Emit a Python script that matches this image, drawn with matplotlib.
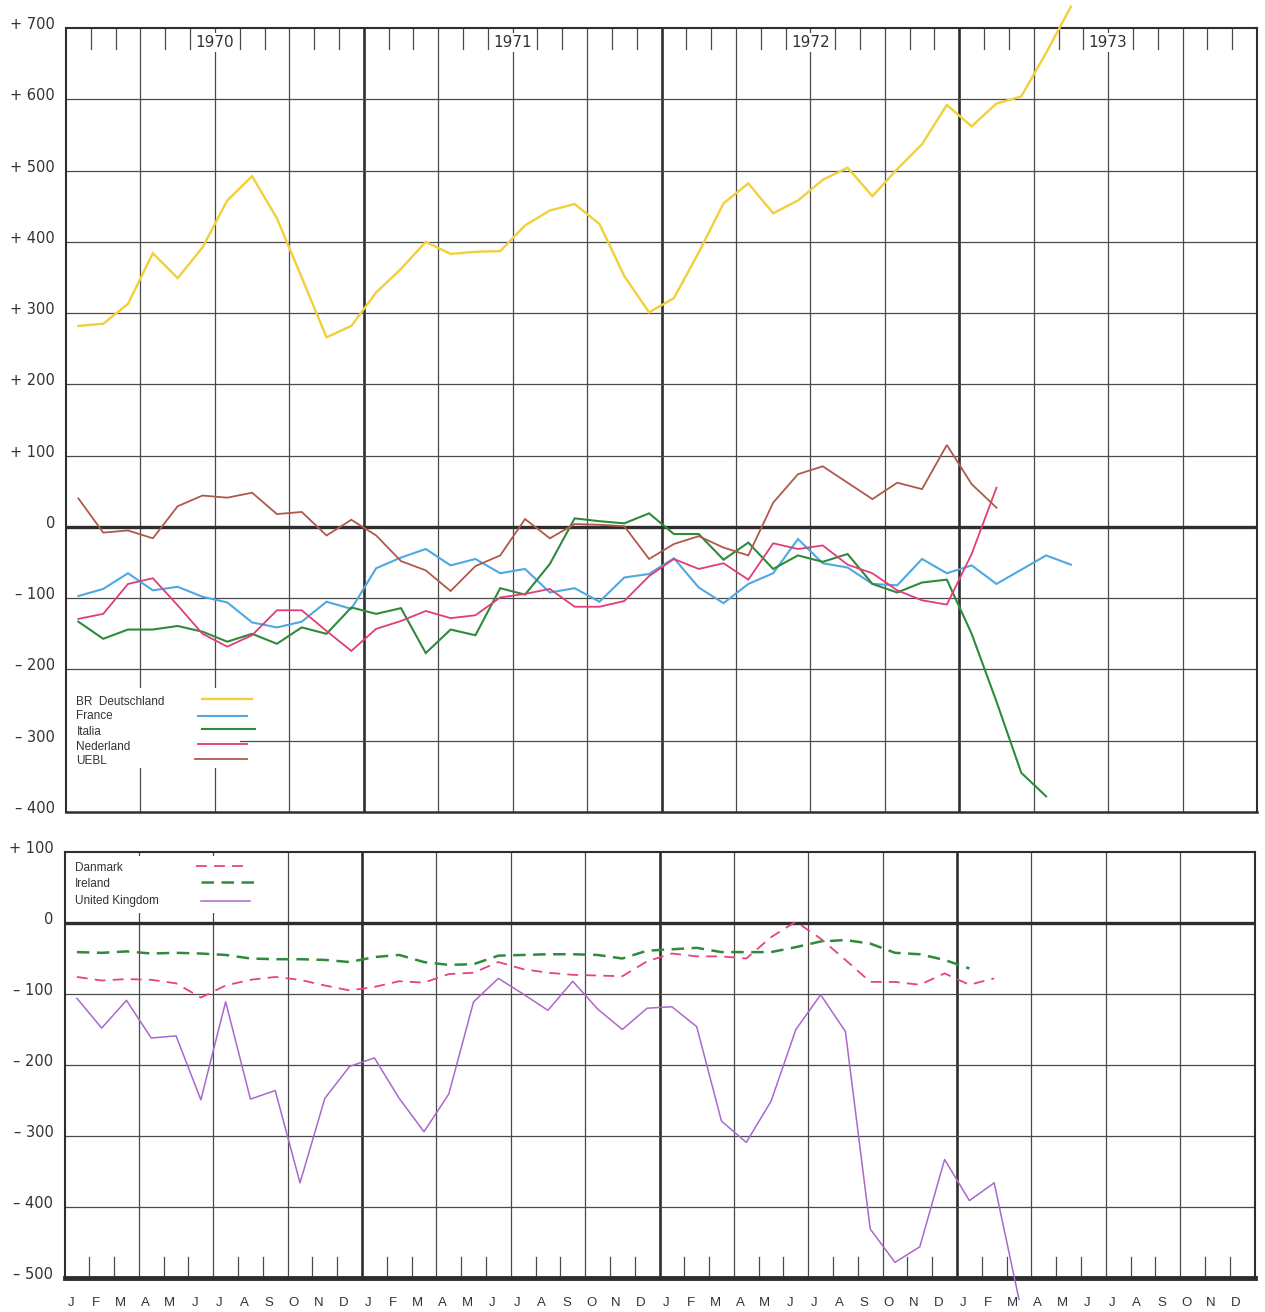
import numpy as np
import matplotlib.pyplot as plt
from matplotlib.transforms import ScaledTranslation, blended_transform_factory
from matplotlib.patches import Rectangle

# monthly values, Jan 1970 onwards
years = ['1970', '1971', '1972', '1973']
month_letters = ['J', 'F', 'M', 'A', 'M', 'J', 'J', 'A', 'S', 'O', 'N', 'D']

brd = [282, 285, 313, 384, 349, 392, 458, 492, 433, 350, 266, 282,
       329, 362, 400, 383, 386, 387, 423, 444, 453, 425, 352, 301,
       321, 385, 454, 482, 440, 458, 487, 504, 464, 502, 537, 592,
       562, 594, 604, 665, 730]
france = [-97, -87, -65, -89, -84, -98, -106, -134, -141, -133, -105, -115,
          -58, -43, -31, -54, -45, -65, -59, -92, -86, -105, -71, -66,
          -44, -85, -107, -80, -65, -17, -51, -57, -80, -82, -45, -65,
          -54, -80, -60, -40, -53]
italia = [-133, -157, -144, -144, -139, -147, -161, -150, -164, -141, -150, -113,
          -122, -114, -177, -144, -152, -86, -95, -52, 12, 8, 5, 19,
          -10, -10, -46, -22, -59, -40, -49, -38, -80, -92, -78, -74,
          -150, -245, -345, -378]
nederland = [-129, -122, -80, -72, -110, -150, -168, -152, -117, -117, -146, -174,
             -143, -132, -118, -128, -124, -99, -94, -87, -112, -112, -104, -69,
             -45, -59, -51, -74, -23, -31, -26, -53, -65, -89, -103, -109,
             -38, 55]
uebl = [40, -8, -5, -16, 29, 44, 41, 48, 18, 21, -12, 10,
        -12, -48, -61, -90, -55, -40, 11, -16, 4, 3, 1, -45,
        -24, -13, -29, -40, 34, 74, 85, 62, 39, 62, 53, 115,
        60, 27]

danmark = [-76, -81, -79, -80, -85, -105, -88, -80, -76, -80, -88, -95,
           -90, -82, -84, -72, -70, -55, -65, -70, -73, -74, -75, -54,
           -43, -47, -47, -50, -20, 2, -22, -52, -83, -83, -87, -71,
           -87, -78]
ireland = [-41, -42, -40, -43, -42, -43, -45, -50, -51, -51, -52, -55,
           -48, -45, -55, -59, -58, -46, -45, -44, -44, -45, -50, -39,
           -37, -35, -41, -41, -41, -34, -26, -24, -29, -42, -44, -52,
           -64]
uk = [-106, -148, -109, -162, -159, -249, -111, -248, -236, -366, -247, -202,
      -190, -247, -294, -241, -111, -78, -100, -123, -82, -121, -150, -120,
      -118, -146, -279, -309, -251, -150, -101, -153, -431, -478, -456, -333,
      -391, -366, -530]

top_series = [('BR  Deutschland', brd, '#f2cf3b', 1.7),
              ('France', france, '#4ea8e2', 1.5),
              ('Italia', italia, '#2f8a3c', 1.5),
              ('Nederland', nederland, '#e23c78', 1.3),
              ('UEBL', uebl, '#b0594a', 1.3)]
bottom_series = [('Danmark', danmark, '#e8437a', 1.3, (6, 4)),
                 ('Ireland', ireland, '#2f8a3c', 1.8, (5, 3)),
                 ('United Kingdom', uk, '#a968cf', 1.1, None)]

n_months = 48
grid_col = '#4a4a4a'
dark = '#2e2e2e'

fig = plt.figure(figsize=(12.65, 13.12), dpi=100)
W, H = 1265, 1312
ax1 = fig.add_axes([66 / W, 1 - 812 / H, 1191 / W, 784 / H])
ax2 = fig.add_axes([64.5 / W, 1 - 1278 / H, 1190 / W, 426 / H])


def setup_axis(ax, ymin, ymax, tick_side):
    ax.set_xlim(0, n_months)
    ax.set_ylim(ymin, ymax)
    for m in range(3, n_months, 3):
        if m % 12 == 0:
            ax.axvline(m, color=dark, lw=1.9, zorder=1)
        else:
            ax.axvline(m, color=grid_col, lw=0.9, zorder=1)
    for v in range(ymin + 100, ymax, 100):
        if v == 0:
            ax.axhline(0, color=dark, lw=2.4, zorder=1)
        else:
            ax.axhline(v, color=grid_col, lw=0.9, zorder=1)
    # small month ticks
    trans = blended_transform_factory(ax.transData, ax.transAxes)
    tick_len = 21 / (ax.get_position().height * H)
    for m in range(1, n_months):
        if m % 3 == 0:
            continue
        if tick_side == 'top':
            ax.plot([m, m], [1, 1 - tick_len], transform=trans, color=grid_col, lw=0.9, zorder=1)
        else:
            ax.plot([m, m], [0, tick_len], transform=trans, color=grid_col, lw=0.9, zorder=1)

    ticks = list(range(ymin, ymax + 1, 100))
    labels = []
    for v in ticks:
        if v > 0:
            labels.append(f'+ {v}')
        elif v < 0:
            labels.append(f'\u2013 {-v}')
        else:
            labels.append('0')
    ax.set_yticks(ticks)
    ax.set_yticklabels(labels, fontsize=10.5, color='#333333')
    ax.tick_params(axis='y', length=0, pad=8)
    ax.set_xticks([])
    offset = ScaledTranslation(0, 5 / 100, fig.dpi_scale_trans)
    for lab in ax.get_yticklabels():
        lab.set_transform(lab.get_transform() + offset)
    for sp in ax.spines.values():
        sp.set_color(dark)
        sp.set_linewidth(1.5)


setup_axis(ax1, -400, 700, 'top')
setup_axis(ax2, -500, 100, 'bottom')
ax1.spines['bottom'].set_linewidth(1.8)
ax2.spines['bottom'].set_linewidth(3.5)

# year labels
for k, yr in enumerate(years):
    ax1.text(12 * k + 6, 680, yr, ha='center', va='center', fontsize=11, color='#333333',
             bbox=dict(fc='white', ec='none', pad=1.5), zorder=2)

# month letters under the lower panel
trans2 = blended_transform_factory(ax2.transData, ax2.transAxes)
for m in range(n_months):
    ax2.text(m + 0.25, -0.059, month_letters[m % 12], transform=trans2, ha='center', va='center',
             fontsize=9.5, color='#333333', family='Liberation Sans')

# top panel lines
for name, vals, col, lw in top_series:
    x = np.arange(len(vals)) + 0.5
    ax1.plot(x, vals, color=col, lw=lw, zorder=4, clip_on=False, solid_joinstyle='miter')

# bottom panel lines
for name, vals, col, lw, dash in bottom_series:
    x = np.arange(len(vals)) + 0.5
    if dash:
        ax2.plot(x, vals, color=col, lw=lw, dashes=dash, zorder=4)
    else:
        ax2.plot(x, vals, color=col, lw=lw, zorder=4, clip_on=False)

# legend, top panel
ax1.add_patch(Rectangle((0, -338), 7.0, 112, fc='white', ec='none', zorder=2))
leg_text_y = [-245, -266, -288, -309, -328]
leg_line_y = [-241, -266, -284, -305, -326]
leg_line_x = [(5.5, 7.5), (5.3, 7.3), (5.5, 7.6), (5.3, 7.3), (5.2, 7.3)]
for (name, vals, col, lw), ty, ly, (x0, x1) in zip(top_series, leg_text_y, leg_line_y, leg_line_x):
    ax1.text(0.42, ty, name, fontsize=8.5, va='center', ha='left', color='#333333',
             family='Liberation Sans', zorder=3)
    ax1.plot([x0, x1], [ly, ly], color=col, lw=lw, zorder=3)

# legend, bottom panel
ax2.add_patch(Rectangle((0, 14), 8.0, 80, fc='white', ec='none', zorder=2))
leg2_text_y = [77, 55, 31]
leg2_line_y = [80, 58, 31]
leg2_line_x = [(5.3, 7.4), (5.5, 7.7), (5.5, 7.5)]
for (name, vals, col, lw, dash), ty, ly, (x0, x1) in zip(bottom_series, leg2_text_y, leg2_line_y, leg2_line_x):
    ax2.text(0.42, ty, name, fontsize=8.5, va='center', ha='left', color='#333333',
             family='Liberation Sans', zorder=3)
    if dash:
        ax2.plot([x0, x1], [ly, ly], color=col, lw=lw, dashes=dash, zorder=3)
    else:
        ax2.plot([x0, x1], [ly, ly], color=col, lw=lw, zorder=3)

fig.savefig('out.png', dpi=100, facecolor='white')
